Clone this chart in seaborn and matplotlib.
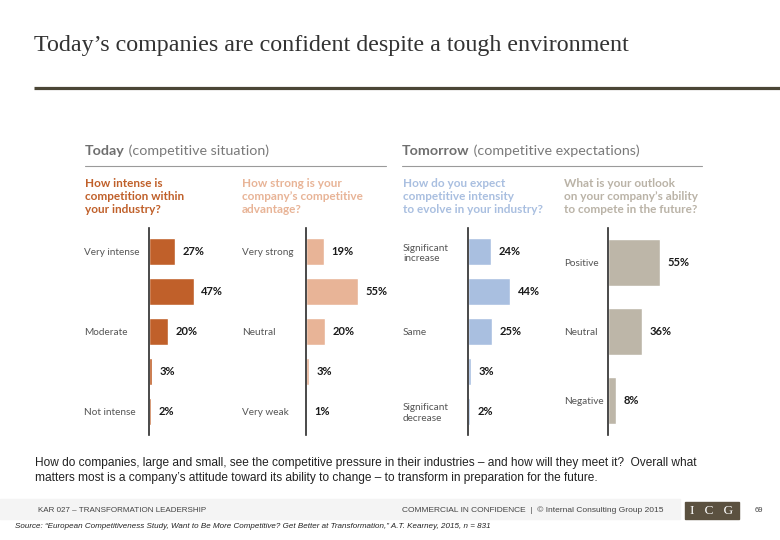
import pandas as pd
import matplotlib.pyplot as plt
import seaborn as sns
from matplotlib.patches import Rectangle

# data
intensity_cats = ["Very intense", "Intense", "Moderate", "Low", "Not intense"]
intensity_labels = ["Very intense", "", "Moderate", "", "Not intense"]
intensity_vals = [27, 47, 20, 3, 2]

advantage_cats = ["Very strong", "Strong", "Neutral", "Weak", "Very weak"]
advantage_labels = ["Very strong", "", "Neutral", "", "Very weak"]
advantage_vals = [19, 55, 20, 3, 1]

evolve_cats = ["Significant increase", "Increase", "Same", "Decrease", "Significant decrease"]
evolve_labels = ["Significant\nincrease", "", "Same", "", "Significant\ndecrease"]
evolve_vals = [24, 44, 25, 3, 2]

outlook_cats = ["Positive", "Neutral", "Negative"]
outlook_labels = ["Positive", "Neutral", "Negative"]
outlook_vals = [55, 36, 8]

questions = [
    "How intense is\ncompetition within\nyour industry?",
    "How strong is your\ncompany\u2019s competitive\nadvantage?",
    "How do you expect\ncompetitive intensity\nto evolve in your industry?",
    "What is your outlook\non your company\u2019s ability\nto compete in the future?",
]

sns.set_theme(style="white")
plt.rcParams["font.family"] = ["Lato", "DejaVu Sans"]

W, H = 780, 540
fig = plt.figure(figsize=(7.8, 5.4), dpi=100)
bg = fig.add_axes([0, 0, 1, 1])
bg.set_xlim(0, W)
bg.set_ylim(H, 0)
bg.axis("off")

# title and rule
bg.text(34, 45, "Today\u2019s companies are confident despite a tough environment",
        family="Liberation Serif", fontsize=17.3, color="#333333", va="center")
bg.plot([34, 780], [88, 88], color="#4b4636", lw=2.3, solid_capstyle="butt")

# section headers
for x0, x1, bold, rest in [(85, 386, "Today", " (competitive situation)"),
                           (402, 702, "Tomorrow", " (competitive expectations)")]:
    t = bg.text(x0, 151, bold, fontsize=10.3, fontweight="bold", color="#6f6f6f", va="center")
    bg.annotate(rest, xy=(1, 0.5), xycoords=t, va="center", ha="left",
                fontsize=10.3, color="#7a7a7a")
    bg.plot([x0, x1], [165.5, 165.5], color="#9a9a9a", lw=0.8)

q_colors = ["#c0602a", "#e8b497", "#a9bfe0", "#bab3a7"]
q_x = [85, 242, 403, 564]
for qx, qc, q in zip(q_x, q_colors, questions):
    bg.text(qx, 178, q, fontsize=8.5, fontweight="bold", color=qc, va="top",
            linespacing=1.22)

panels = [
    (intensity_cats, intensity_labels, intensity_vals, "#c0602a", 149, 65),
    (advantage_cats, advantage_labels, advantage_vals, "#e8b497", 306, 64),
    (evolve_cats, evolve_labels, evolve_vals, "#a9bfe0", 468, 65),
    (outlook_cats, outlook_labels, outlook_vals, "#bdb6a8", 608, 44),
]

top, bottom = 228, 435
for cats, labels, vals, color, left, pad in panels:
    ax = fig.add_axes([left / W, 1 - bottom / H, 95 / W, (bottom - top) / H])
    df = pd.DataFrame({"cat": cats, "pct": vals})
    sns.barplot(data=df, x="pct", y="cat", order=cats, color=color,
                width=0.67, saturation=1, ax=ax)
    n = len(cats)
    extra = 0.09 if n == 5 else 0.0
    ax.set_ylim(n - 0.5 + extra, -0.5 - extra)
    ax.set_xlim(0, 100)
    ax.set_yticks(range(n))
    ax.set_yticklabels(labels, ha="left", fontsize=7.2, color="#555555")
    ax.tick_params(axis="y", length=0, pad=pad * 0.72)
    ax.set_xticks([])
    ax.set_xlabel("")
    ax.set_ylabel("")
    for s in ["top", "right", "bottom"]:
        ax.spines[s].set_visible(False)
    ax.spines["left"].set_color("#2a2a2a")
    ax.spines["left"].set_linewidth(1.2)
    ax.patch.set_alpha(0)
    ax.bar_label(ax.containers[0], labels=[f"{v}%" for v in vals], padding=5.5,
                 fontsize=8, fontweight="bold", color="#1a1a1a")

# caption
bg.text(35, 463, "How do companies, large and small, see the competitive pressure in their "
        "industries \u2013 and how will they meet it?  Overall what", family="Liberation Sans",
        fontsize=8.6, color="#222222", va="center")
bg.text(35, 478, "matters most is a company\u2019s attitude toward its ability to change \u2013 "
        "to transform in preparation for the future.", family="Liberation Sans",
        fontsize=8.6, color="#222222", va="center")

# footer
bg.add_patch(Rectangle((0, 499), 680, 20, color="#f4f4f4", zorder=0))
bg.text(38, 510, "KAR 027 \u2013 TRANSFORMATION LEADERSHIP", family="Liberation Sans",
        fontsize=5.8, color="#444444", va="center")
bg.text(402, 510, "COMMERCIAL IN CONFIDENCE  |  \u00a9 Internal Consulting Group 2015",
        family="Liberation Sans", fontsize=6.0, color="#444444", va="center")
bg.add_patch(Rectangle((685, 502), 54, 17, color="#5b5140", zorder=2))
bg.text(712, 510.5, "I   C   G", family="Liberation Serif", fontsize=9.5, color="white",
        ha="center", va="center", zorder=3)
bg.text(755, 511, "69", family="Liberation Sans", fontsize=5.5, color="#444444", va="center")
bg.text(15, 526, "Source: \u201cEuropean Competitiveness Study, Want to Be More Competitive? "
        "Get Better at Transformation,\u201d A.T. Kearney, 2015, n = 831",
        family="Liberation Sans", fontsize=5.75, style="italic", color="#222222", va="center")

fig.savefig("out.png", dpi=100)
